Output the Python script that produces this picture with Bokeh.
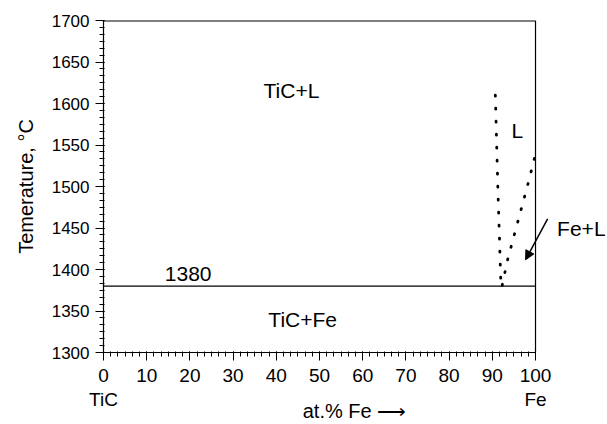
from bokeh.plotting import figure
from bokeh.models import Label, Arrow, NormalHead, Range1d, FixedTicker, LinearAxis
from bokeh.embed import file_html
from bokeh.resources import INLINE

FONT = "Liberation Sans"

# ---- data ----
x_ticks = [0, 10, 20, 30, 40, 50, 60, 70, 80, 90, 100]
y_ticks = [1300, 1350, 1400, 1450, 1500, 1550, 1600, 1650, 1700]
end_member_pos = [0, 100]
end_member_names = ["TiC", "Fe"]
eutectic_x = [0, 100]
eutectic_y = [1380, 1380]
solidus_x = [90.7, 91.3, 92.0]
solidus_y = [1610, 1495, 1381]
liquidus_x = [92.3, 93.5, 95.1, 96.7, 98.3, 99.8]
liquidus_y = [1381, 1411, 1442, 1473, 1504, 1535]
frame_top_x = [0, 100]
frame_top_y = [1700, 1700]
frame_right_x = [100, 100]
frame_right_y = [1300, 1700]

p = figure(width=607, height=424, output_backend="svg", toolbar_location=None,
           x_range=Range1d(0, 116.2), y_range=Range1d(1300, 1700),
           min_border_left=103, min_border_right=2, min_border_top=20,
           min_border_bottom=71)
p.outline_line_color = None
p.xgrid.visible = False
p.ygrid.visible = False
p.background_fill_color = "white"

for ax in (p.xaxis[0], p.yaxis[0]):
    ax.axis_line_color = "black"
    ax.axis_line_width = 1.2
    ax.major_tick_line_color = "black"
    ax.minor_tick_line_color = "black"
    ax.major_tick_out = 8
    ax.major_tick_in = 1
    ax.minor_tick_out = 4
    ax.minor_tick_in = 1
    ax.major_label_text_font = FONT
    ax.major_label_text_color = "black"

p.xaxis[0].ticker = FixedTicker(ticks=x_ticks,
                                minor_ticks=[v / 6 * 10 for v in range(0, 61)])
p.yaxis[0].ticker = FixedTicker(ticks=y_ticks,
                                minor_ticks=[1300 + v * 50 / 6 for v in range(0, 49)])
p.xaxis[0].bounds = (0, 100)
p.xaxis[0].major_label_text_font_size = "19px"
p.xaxis[0].major_label_standoff = 8
p.yaxis[0].major_label_text_font_size = "17px"
p.yaxis[0].major_label_standoff = 6

# second bottom axis: end-member names and the composition label
ax2 = LinearAxis(ticker=FixedTicker(ticks=end_member_pos),
                 major_label_overrides={float(v): n for v, n in zip(end_member_pos, end_member_names)},
                 bounds=(0, 108.2))
ax2.axis_line_color = None
ax2.major_tick_line_color = None
ax2.minor_tick_line_color = None
ax2.major_tick_out = 0
ax2.major_tick_in = 0
ax2.major_label_standoff = 4
ax2.major_label_text_font = FONT
ax2.major_label_text_font_size = "19px"
ax2.major_label_text_color = "black"
ax2.axis_label = "at.% Fe \u27f6"
ax2.axis_label_text_font = FONT
ax2.axis_label_text_font_size = "20px"
ax2.axis_label_text_font_style = "normal"
ax2.axis_label_text_color = "black"
ax2.axis_label_standoff = -13
p.add_layout(ax2, "below")

# second left axis: carries only the temperature label
ay2 = LinearAxis(ticker=FixedTicker(ticks=[]), bounds=(1283, 1700))
ay2.axis_line_color = None
ay2.major_tick_line_color = None
ay2.minor_tick_line_color = None
ay2.major_label_text_font_size = "0px"
ay2.axis_label = "Temerature, °C"
ay2.axis_label_text_font = FONT
ay2.axis_label_text_font_size = "20px"
ay2.axis_label_text_font_style = "normal"
ay2.axis_label_text_color = "black"
ay2.axis_label_standoff = 12
p.add_layout(ay2, "left")

# frame lines (top and right, only up to 100 %)
p.line(frame_top_x, frame_top_y, line_color="black", line_width=2)
p.line(frame_right_x, frame_right_y, line_color="black", line_width=1.2)

# eutectic line
p.line(eutectic_x, eutectic_y, line_color="black", line_width=1.2)

# dotted phase boundaries
p.line(solidus_x, solidus_y, line_color="black", line_width=2.8,
       line_dash="1 12", line_cap="round")
p.line(liquidus_x, liquidus_y, line_color="black", line_width=2.8,
       line_dash="1 12", line_cap="round")

def lab(x, y, t, size="21px", align="center"):
    p.add_layout(Label(x=x, y=y, text=t, text_font=FONT, text_font_size=size,
                       text_align=align, text_baseline="middle",
                       text_color="black"))

lab(43.5, 1616, "TiC+L")
lab(95.8, 1568, "L")
lab(105.0, 1449, "Fe+L", align="left")
lab(19.6, 1395, "1380")
lab(46.1, 1340, "TiC+Fe")

p.add_layout(Arrow(end=NormalHead(size=9, fill_color="black", line_color="black"),
                   x_start=102.8, y_start=1461, x_end=97.7, y_end=1411.7,
                   line_color="black", line_width=1.5))

open("out.html", "w").write(file_html(p, INLINE))
